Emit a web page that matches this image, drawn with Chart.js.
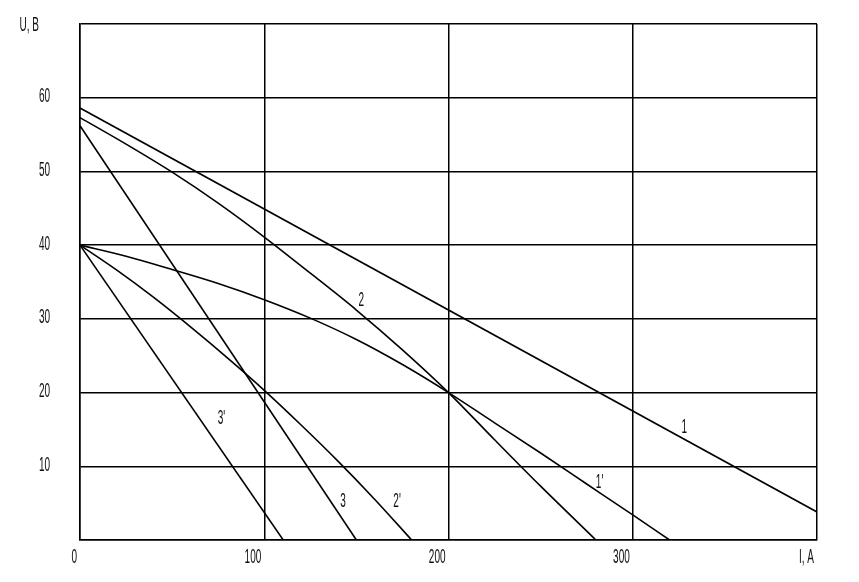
<!DOCTYPE html>
<html>
<head>
<meta charset="utf-8">
<script src="https://cdn.jsdelivr.net/npm/chart.js@4.4.0/dist/chart.umd.min.js"></script>
<style>
  html, body { margin: 0; padding: 0; background: #fff; }
  #wrap { width: 859px; height: 582px; position: relative; }
</style>
</head>
<body>
<div id="wrap"><canvas id="myChart"></canvas></div>
<script>
// current I, A and voltage U, B for each characteristic
var i1 = [0, 400];
var u1 = [58.6, 3.8];
var i1p = [0, 25, 50, 75, 100, 125, 150, 175, 200, 225, 250, 275, 300, 320];
var u1p = [40, 38.5, 36.7, 34.8, 32.6, 30.1, 27.2, 23.8, 20, 15.9, 11.8, 7.6, 3.4, 0];
var i2 = [0, 25, 50, 75, 100, 125, 150, 175, 200, 225, 250, 280];
var u2 = [57.3, 53.7, 49.9, 45.7, 41.1, 36.2, 31.2, 25.8, 20, 13.6, 7.3, 0];
var i2p = [0, 20, 40, 60, 80, 100, 120, 140, 160, 180];
var u2p = [40, 36.6, 32.9, 28.9, 24.7, 20.3, 15.6, 10.7, 5.5, 0];
var i3 = [0, 150];
var u3 = [56.2, 0];
var i3p = [0, 110.3];
var u3p = [40, 0];

var xTickLabels = ["0", "100", "200", "300", "I, A"];
var yTickLabels = ["", "10", "20", "30", "40", "50", "60", ""];
var yTitle = "U, B";

// curve names placed in data coordinates
var curveLabels = [
  { text: "1", x: 328, y: 15.2 },
  { text: "1'", x: 282, y: 7.8 },
  { text: "2", x: 152.7, y: 32.5 },
  { text: "2'", x: 172.1, y: 5.2 },
  { text: "3", x: 142.8, y: 5.2 },
  { text: "3'", x: 76.8, y: 16.5 }
];

function pts(xs, ys) {
  return xs.map(function (x, k) { return { x: x, y: ys[k] }; });
}

function line(xs, ys, curved) {
  return {
    data: pts(xs, ys),
    showLine: true,
    borderColor: "#000",
    borderWidth: 1.6,
    pointRadius: 0,
    fill: false,
    cubicInterpolationMode: curved ? "monotone" : "default"
  };
}

function narrowText(ctx, text, x, y, align) {
  ctx.save();
  ctx.translate(x, y);
  ctx.scale(0.5, 1);
  ctx.textAlign = align;
  ctx.fillText(text, 0, 0);
  ctx.restore();
}

var labelPlugin = {
  id: "labels",
  afterDraw: function (chart) {
    var ctx = chart.ctx;
    var xs = chart.scales.x, ys = chart.scales.y;
    var area = chart.chartArea;
    ctx.save();
    ctx.fillStyle = "#111";
    ctx.font = "20px 'Liberation Sans', Arial, sans-serif";
    ctx.textBaseline = "middle";
    xs.ticks.forEach(function (t, k) {
      narrowText(ctx, xTickLabels[k] || "", xs.getPixelForValue(t.value) - 3, area.bottom + 17, "right");
    });
    ys.ticks.forEach(function (t, k) {
      narrowText(ctx, yTickLabels[k] || "", area.left - 30, ys.getPixelForValue(t.value) - 1, "right");
    });
    narrowText(ctx, yTitle, area.left - 41, ys.getPixelForValue(70) + 1, "right");
    curveLabels.forEach(function (c) {
      narrowText(ctx, c.text, xs.getPixelForValue(c.x), ys.getPixelForValue(c.y), "center");
    });
    ctx.restore();
  }
};

new Chart("myChart", {
  type: "scatter",
  data: {
    datasets: [
      line(i1, u1, false),
      line(i1p, u1p, true),
      line(i2, u2, true),
      line(i2p, u2p, true),
      line(i3, u3, false),
      line(i3p, u3p, false)
    ]
  },
  options: {
    responsive: true,
    maintainAspectRatio: false,
    animation: false,
    layout: { padding: { left: 0, top: 24, right: 42, bottom: 0 } },
    plugins: { legend: { display: false }, tooltip: { enabled: false } },
    scales: {
      x: {
        type: "linear",
        min: 0,
        max: 400,
        ticks: { stepSize: 100, display: false },
        grid: { color: "#000", lineWidth: 1.5, drawTicks: false },
        border: { color: "#000", width: 1.5 },
        afterFit: function (s) { s.height = 42; }
      },
      y: {
        type: "linear",
        min: 0,
        max: 70,
        ticks: { stepSize: 10, display: false },
        grid: { color: "#000", lineWidth: 1.5, drawTicks: false },
        border: { color: "#000", width: 1.5 },
        afterFit: function (s) { s.width = 80; }
      }
    }
  },
  plugins: [labelPlugin]
});
</script>
</body>
</html>
